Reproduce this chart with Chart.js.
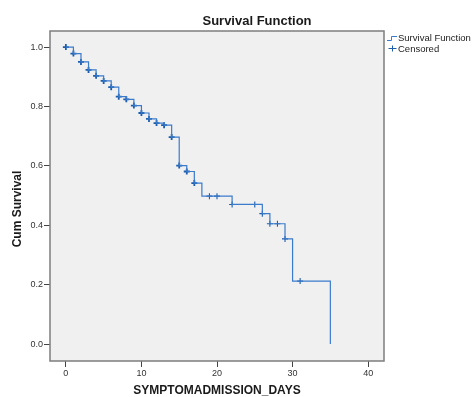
<!DOCTYPE html>
<html>
<head>
<meta charset="utf-8">
<script src="https://cdn.jsdelivr.net/npm/chart.js@4/dist/chart.umd.min.js"></script>
<style>
  html, body { margin: 0; padding: 0; background: #fff; }
</style>
</head>
<body>
<canvas id="survival-chart" width="472" height="397"></canvas>
<script>
// Kaplan-Meier step: day of each drop and survival level after it
const eventDays = [0, 1, 2, 3, 4, 5, 6, 7, 8, 9, 10, 11, 12, 13, 14, 15, 16, 17, 18, 22, 26, 27, 29, 30, 35]
const survival = [1.0, 0.978, 0.95, 0.923, 0.903, 0.886, 0.865, 0.833, 0.824, 0.803, 0.778, 0.758, 0.744, 0.737, 0.697, 0.601, 0.581, 0.542, 0.498, 0.47, 0.439, 0.405, 0.354, 0.212, 0.0]

// censored cases
const censoredDays = [0, 1, 2, 3, 4, 5, 6, 7, 8, 9, 10, 11, 12, 13, 14, 15, 16, 17, 19, 20, 22, 25, 26, 27, 28, 29, 31]
const censoredSurvival = [1.0, 0.978, 0.95, 0.923, 0.903, 0.886, 0.865, 0.833, 0.824, 0.803, 0.778, 0.758, 0.744, 0.737, 0.697, 0.601, 0.581, 0.542, 0.498, 0.498, 0.47, 0.47, 0.439, 0.405, 0.405, 0.354, 0.212]

const xTicks = [0, 10, 20, 30, 40]
const yTicks = [0.0, 0.2, 0.4, 0.6, 0.8, 1.0]

const FONT = '"Liberation Sans", Arial, sans-serif'
const LINE_COLOR = '#3b7bcc'
const CROSS_COLOR = '#1c5dad'

initChart()

function initChart() {
  const ctx = document.getElementById('survival-chart')

  new Chart(ctx, {
    type: 'line',
    data: {
      datasets: [
        {
          label: 'Survival Function',
          data: eventDays.map((d, i) => ({ x: d, y: survival[i] })),
          stepped: 'before',
          borderColor: LINE_COLOR,
          borderWidth: 1.2,
          pointRadius: 0,
          fill: false,
        },
        {
          label: 'Censored',
          data: censoredDays.map((d, i) => ({ x: d, y: censoredSurvival[i] })),
          showLine: false,
          pointStyle: 'cross',
          pointRadius: 3,
          pointBorderColor: CROSS_COLOR,
          pointBorderWidth: (c) => (c.raw && c.raw.x <= 17 ? 1.8 : 1.1),
        },
      ],
    },
    options: {
      responsive: false,
      animation: false,
      layout: { padding: { top: 31, right: 88, left: 0, bottom: 0 } },
      plugins: {
        legend: { display: false },
        tooltip: { enabled: false },
      },
      scales: {
        x: {
          type: 'linear',
          min: -2.1,
          max: 42.1,
          afterBuildTicks: (s) => { s.ticks = xTicks.map((v) => ({ value: v })) },
          afterFit: (s) => { s.height = 36 },
          ticks: {
            padding: 1,
            color: '#333',
            font: { family: FONT, size: 9 },
            callback: (v) => String(v),
          },
          grid: { drawOnChartArea: false, drawTicks: true, tickLength: 6, color: '#444' },
          border: { display: false },
          title: {
            display: true,
            text: 'SYMPTOMADMISSION_DAYS',
            color: '#1a1a1a',
            padding: 0,
            font: { family: FONT, size: 12, weight: 'bold', lineHeight: 1 },
          },
        },
        y: {
          min: -0.057,
          max: 1.054,
          afterBuildTicks: (s) => { s.ticks = yTicks.map((v) => ({ value: v })) },
          afterFit: (s) => { s.width = 50 },
          ticks: {
            padding: 1,
            color: '#333',
            font: { family: FONT, size: 9 },
            callback: (v) => Number(v).toFixed(1),
          },
          grid: { drawOnChartArea: false, drawTicks: true, tickLength: 6, color: '#444' },
          border: { display: false },
        },
      },
    },
    plugins: [framePlugin()],
  })
}

/**
 * Grey plot background, frame, titles and the SPSS-style legend
 */
function framePlugin() {
  return {
    id: 'frame',
    beforeDraw(chart) {
      const { ctx, chartArea: a } = chart
      ctx.save()
      ctx.fillStyle = '#f0f0f0'
      ctx.fillRect(a.left, a.top, a.right - a.left, a.bottom - a.top)
      ctx.restore()
    },
    afterDraw(chart) {
      const { ctx, chartArea: a } = chart
      ctx.save()
      ctx.strokeStyle = '#7d7d7d'
      ctx.lineWidth = 1.5
      ctx.strokeRect(a.left, a.top, a.right - a.left, a.bottom - a.top)

      ctx.fillStyle = '#1a1a1a'
      ctx.textAlign = 'center'
      ctx.textBaseline = 'middle'
      ctx.font = `bold 13px ${FONT}`
      ctx.fillText('Survival Function', 257, 21)

      ctx.save()
      ctx.translate(18, 209)
      ctx.rotate(-Math.PI / 2)
      ctx.font = `bold 12px ${FONT}`
      ctx.fillText('Cum Survival', 0, 0)
      ctx.restore()

      // legend
      ctx.strokeStyle = LINE_COLOR
      ctx.lineWidth = 1
      ctx.beginPath()
      ctx.moveTo(387, 40.5)
      ctx.lineTo(391.5, 40.5)
      ctx.lineTo(391.5, 36.5)
      ctx.lineTo(397, 36.5)
      ctx.stroke()

      ctx.strokeStyle = CROSS_COLOR
      ctx.beginPath()
      ctx.moveTo(388.5, 48.5)
      ctx.lineTo(396.5, 48.5)
      ctx.moveTo(392.5, 45.5)
      ctx.lineTo(392.5, 51.5)
      ctx.stroke()

      ctx.fillStyle = '#222'
      ctx.textAlign = 'left'
      ctx.font = `9.5px ${FONT}`
      ctx.fillText('Survival Function', 398, 38)
      ctx.fillText('Censored', 398, 49)
      ctx.restore()
    },
  }
}
</script>
</body>
</html>
